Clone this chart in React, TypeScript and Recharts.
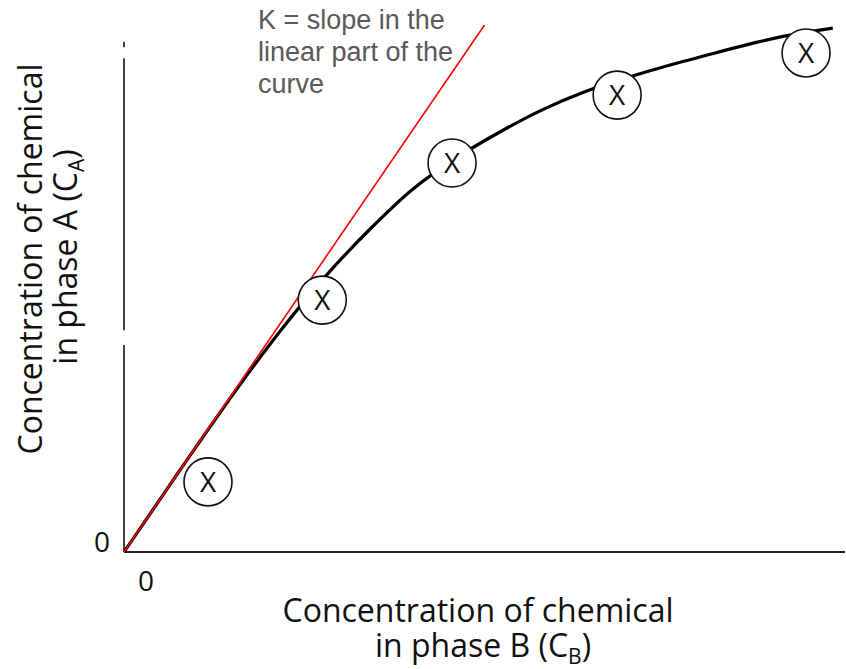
import React from "react";
import { ComposedChart, Line, Scatter, XAxis, YAxis, ReferenceLine } from "recharts";

// Smooth partition curve (C_B, C_A)
const curveX = [0, 8, 16, 22, 28, 34, 40, 46, 52, 58, 64, 70, 76, 82, 88, 94, 98.3];
const curveY = [0, 16, 31.6, 42.5, 52.4, 61.1, 68.8, 74.7, 79.6, 83.9, 87.4, 90.1, 92.5, 94.7, 96.8, 98.5, 99.4];

// Measured points (circled X)
const pointX = [11.65, 27.5, 45.5, 68.4, 94.6];
const pointY = [13.3, 47.8, 73.8, 86.7, 94.7];

// Slope (K) line in the linear part
const slopeX = [0, 50];
const slopeY = [0, 100];

// Broken y-axis segments [from, to]
const yAxisSegments = [
  [0, 39.3],
  [42.1, 93.7],
  [95.8, 96.8],
];

const tickLabels = ["0"];
const annotationLines = ["K = slope in the", "linear part of the", "curve"];

const curveData = curveX.map((x, i) => ({ x, y: curveY[i] }));
const pointData = pointX.map((x, i) => ({ x, y: pointY[i] }));
const slopeData = slopeX.map((x, i) => ({ x, y: slopeY[i] }));

const W = 846;
const H = 669;
const M = { top: 25, right: 1, bottom: 117, left: 124 };

const titleFont = "'Open Sans', 'Noto Sans', sans-serif";

const CircledX = (props: any) => {
  const { cx, cy } = props;
  if (cx == null || cy == null) return null;
  return (
    <g>
      <circle cx={cx} cy={cy} r={24} fill="#fff" stroke="#111" strokeWidth={1.6} />
      <text
        x={cx}
        y={cy + 10}
        textAnchor="middle"
        fontFamily={titleFont}
        fontSize={28}
        fill="#111"
      >
        X
      </text>
    </g>
  );
};

export default function App() {
  return (
    <div style={{ position: "absolute", left: 0, top: 0, width: W, height: H, background: "#fff" }}>
      <ComposedChart width={W} height={H} margin={M}>
        <XAxis dataKey="x" type="number" domain={[0, 100]} hide allowDataOverflow />
        <YAxis dataKey="y" type="number" domain={[0, 100]} hide allowDataOverflow />
        <ReferenceLine
          segment={[{ x: 0, y: 0 }, { x: 100, y: 0 }]}
          stroke="#222"
          strokeWidth={2}
          ifOverflow="visible"
        />
        {yAxisSegments.map((s, i) => (
          <ReferenceLine
            key={i}
            segment={[{ x: 0, y: s[0] }, { x: 0, y: s[1] }]}
            stroke="#444"
            strokeWidth={2}
            ifOverflow="visible"
          />
        ))}
        <Line
          data={curveData}
          dataKey="y"
          type="monotone"
          stroke="#000"
          strokeWidth={3.2}
          dot={false}
          activeDot={false}
          isAnimationActive={false}
        />
        <Scatter data={pointData} dataKey="y" shape={CircledX} isAnimationActive={false} />
        <Line
          data={slopeData}
          dataKey="y"
          type="linear"
          stroke="#ff0000"
          strokeWidth={1.6}
          dot={false}
          activeDot={false}
          isAnimationActive={false}
        />
        {/* tick labels */}
        <text x={102} y={552} textAnchor="middle" fontFamily={titleFont} fontSize={28} fill="#111">
          {tickLabels[0]}
        </text>
        <text x={146} y={591} textAnchor="middle" fontFamily={titleFont} fontSize={28} fill="#111">
          {tickLabels[0]}
        </text>
        {/* x axis title */}
        <text x={478} y={622} textAnchor="middle" fontFamily={titleFont} fontSize={32} fill="#111">
          Concentration of chemical
        </text>
        <text x={483} y={657} textAnchor="middle" fontFamily={titleFont} fontSize={32} fill="#111">
          in phase B (C<tspan fontSize={21} dy={7}>B</tspan><tspan dy={-7}>)</tspan>
        </text>
        {/* y axis title */}
        <text
          x={42}
          y={259}
          transform="rotate(-90 42 259)"
          textAnchor="middle"
          fontFamily={titleFont}
          fontSize={32}
          fill="#111"
        >
          Concentration of chemical
        </text>
        <text
          x={77}
          y={257}
          transform="rotate(-90 77 257)"
          textAnchor="middle"
          fontFamily={titleFont}
          fontSize={32}
          fill="#111"
        >
          in phase A (C<tspan fontSize={21} dy={7}>A</tspan><tspan dy={-7}>)</tspan>
        </text>
        {/* annotation */}
        {annotationLines.map((t, i) => (
          <text
            key={i}
            x={258}
            y={29 + i * 32}
            fontFamily="'Liberation Sans', Arial, sans-serif"
            fontSize={27}
            fill="#595959"
          >
            {t}
          </text>
        ))}
      </ComposedChart>
    </div>
  );
}
